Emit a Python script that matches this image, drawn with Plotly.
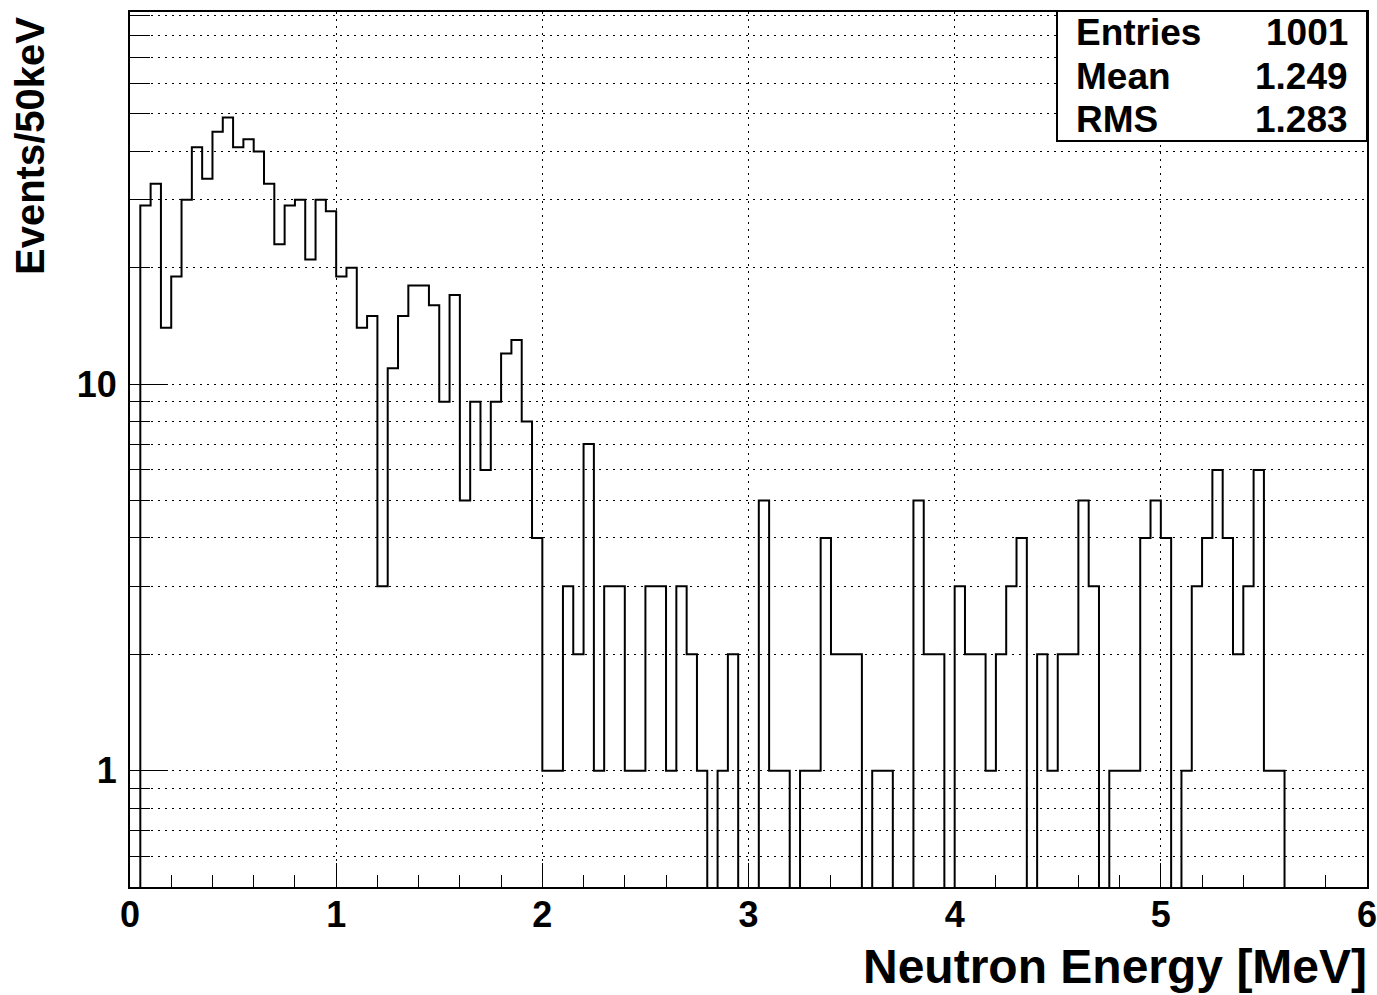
import math
import plotly.graph_objects as go

# ---------------- data ----------------
bin_width = 0.05          # MeV (50 keV)
n_bins = 120              # 0 .. 6 MeV
counts = [
    0, 29, 33, 14, 19, 30, 41, 34, 45, 49,
    41, 43, 40, 33, 23, 29, 30, 21, 30, 28,
    19, 20, 14, 15, 3, 11, 15, 18, 18, 16,
    9, 17, 5, 9, 6, 9, 12, 13, 8, 4,
    1, 1, 3, 2, 7, 1, 3, 3, 1, 1,
    3, 3, 1, 3, 2, 1, 0, 1, 2, 0,
    0, 5, 1, 1, 0, 1, 1, 4, 2, 2,
    2, 0, 1, 1, 0, 0, 5, 2, 2, 0,
    3, 2, 2, 1, 2, 3, 4, 0, 2, 1,
    2, 2, 5, 3, 0, 1, 1, 1, 4, 5,
    4, 0, 1, 3, 4, 6, 4, 2, 3, 6,
    1, 1, 0, 0, 0, 0, 0, 0, 0, 0,
]
x_ticks = [0, 1, 2, 3, 4, 5, 6]
x_tick_labels = ["0", "1", "2", "3", "4", "5", "6"]
x_minor_ticks = [0.2, 0.4, 0.6, 0.8, 1.2, 1.4, 1.6, 1.8, 2.2, 2.4, 2.6, 2.8,
                 3.2, 3.4, 3.6, 3.8, 4.2, 4.4, 4.6, 4.8, 5.2, 5.4, 5.6, 5.8]
y_ticks = [1, 10]
y_tick_labels = ["1", "10"]
y_minor_ticks = [0.5, 0.6, 0.7, 0.8, 0.9, 2, 3, 4, 5, 6, 7, 8, 9,
                 20, 30, 40, 50, 60, 70, 80, 90]
stats_labels = ["Entries", "Mean", "RMS"]
stats_values = ["1001", "1.249", "1.283"]
x_title = "Neutron Energy [MeV]"
y_title = "Events/50keV"
y_min, y_max = 0.5, 91.8

# ---------------- figure ----------------
W, H = 1377, 995
L, R, T, B = 130, 10, 12, 108
PW, PH = W - L - R, H - T - B


def px(x):
    return (x - L) / PW


def py(y):
    return (H - B - y) / PH


FONT = "Liberation Sans, Arial, Helvetica, sans-serif"

# step outline; empty bins are sent below the visible range (ROOT draws them down to the frame)
xs = [i * bin_width for i in range(n_bins)] + [n_bins * bin_width]
ys = [c if c > 0 else 1e-3 for c in counts]
ys = ys + [ys[-1]]

fig = go.Figure()
fig.add_trace(go.Scatter(
    x=xs, y=ys, mode="lines", line=dict(color="black", width=2, shape="hv"),
    hoverinfo="skip", showlegend=False,
))

grid_dash = "2px,5px"
fig.update_layout(
    width=W, height=H,
    margin=dict(l=L, r=R, t=T, b=B, pad=0, autoexpand=False),
    paper_bgcolor="white", plot_bgcolor="white",
    showlegend=False,
    xaxis=dict(
        range=[0, 6], tickmode="array", tickvals=x_ticks, ticktext=x_tick_labels,
        ticks="inside", ticklen=24, tickwidth=1, tickcolor="black",
        showgrid=True, gridcolor="black", gridwidth=1, griddash=grid_dash,
        zeroline=False, showline=True, linecolor="black", linewidth=2, mirror=True,
        tickfont=dict(family=FONT, size=36, color="black", weight="bold"),
        ticklabelstandoff=-5, automargin=False, ticklabeloverflow="allow",
        minor=dict(tickmode="array", tickvals=x_minor_ticks, ticks="inside",
                   ticklen=12, tickwidth=1, tickcolor="black", showgrid=False),
    ),
    yaxis=dict(
        type="log", range=[math.log10(y_min), math.log10(y_max)],
        tickmode="array", tickvals=y_ticks, ticktext=y_tick_labels,
        ticks="inside", ticklen=38, tickwidth=1, tickcolor="black",
        showgrid=True, gridcolor="black", gridwidth=1, griddash=grid_dash,
        zeroline=False, showline=True, linecolor="black", linewidth=2, mirror=True,
        tickfont=dict(family=FONT, size=36, color="black", weight="bold"),
        ticklabelstandoff=4, automargin=False, ticklabeloverflow="allow",
        minor=dict(tickmode="array", tickvals=y_minor_ticks, ticks="inside",
                   ticklen=20, tickwidth=1, tickcolor="black", showgrid=True,
                   gridcolor="black", gridwidth=1, griddash=grid_dash),
    ),
)

# stats box
bx0, bx1, by0, by1 = 1057, 1367, 11, 141
fig.add_shape(type="rect", xref="paper", yref="paper",
              x0=px(bx0), x1=px(bx1), y0=py(by1), y1=py(by0),
              line=dict(color="black", width=2), fillcolor="white", layer="above")
row_h = (by1 - by0) / len(stats_labels)
for i, (lab, val) in enumerate(zip(stats_labels, stats_values)):
    yc = by0 + row_h * (i + 0.5)
    fig.add_annotation(x=px(1074), y=py(yc), xref="paper", yref="paper",
                       text=lab, showarrow=False, xanchor="left", yanchor="middle",
                       font=dict(family=FONT, size=37, color="black", weight="bold"))
    fig.add_annotation(x=px(1350), y=py(yc), xref="paper", yref="paper",
                       text=val, showarrow=False, xanchor="right", yanchor="middle",
                       font=dict(family=FONT, size=37, color="black", weight="bold"))

# axis titles
fig.add_annotation(x=px(1369), y=py(966), xref="paper", yref="paper",
                   text=x_title, showarrow=False, xanchor="right", yanchor="middle",
                   font=dict(family=FONT, size=48, color="black", weight="bold"))
fig.add_annotation(x=px(30), y=py(146), xref="paper", yref="paper",
                   text=y_title, showarrow=False, textangle=-90,
                   xanchor="center", yanchor="middle",
                   font=dict(family=FONT, size=40, color="black", weight="bold"))

fig.write_html("out.html")
